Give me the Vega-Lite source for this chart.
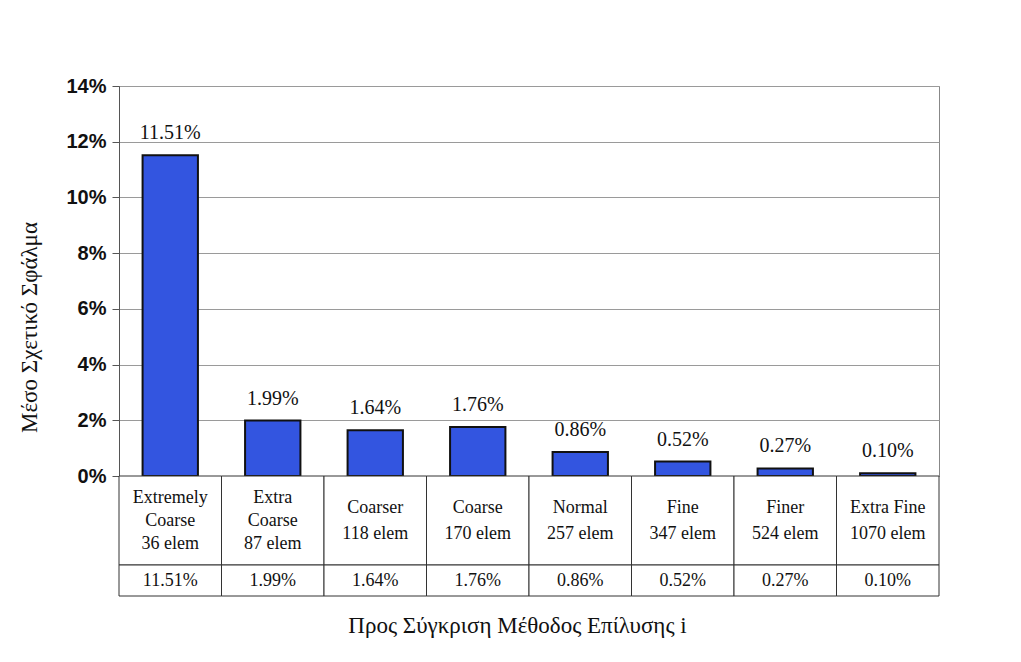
{
  "$schema": "https://vega.github.io/schema/vega-lite/v6.json",
  "background": "white",
  "padding": {"left": 18, "top": 75, "right": 10, "bottom": 10},
  "spacing": 0,
  "bounds": "flush",
  "config": {
    "font": "Liberation Serif",
    "view": {"stroke": null}
  },
  "data": {
    "values": [
      {"mesh": "Extremely\nCoarse\n36 elem", "err": 0.1151},
      {"mesh": "Extra\nCoarse\n87 elem", "err": 0.0199},
      {"mesh": "Coarser\n118 elem", "err": 0.0164},
      {"mesh": "Coarse\n170 elem", "err": 0.0176},
      {"mesh": "Normal\n257 elem", "err": 0.0086},
      {"mesh": "Fine\n347 elem", "err": 0.0052},
      {"mesh": "Finer\n524 elem", "err": 0.0027},
      {"mesh": "Extra Fine\n1070 elem", "err": 0.0010}
    ]
  },
  "vconcat": [
    {
      "width": 820,
      "height": 390,
      "view": {"stroke": "#888888", "strokeWidth": 1},
      "encoding": {
        "x": {
          "field": "mesh", "type": "nominal", "sort": null, "axis": null,
          "scale": {"paddingInner": 0, "paddingOuter": 0}
        },
        "y": {
          "field": "err", "type": "quantitative",
          "scale": {"domain": [0, 0.14], "nice": false},
          "axis": {
            "values": [0, 0.02, 0.04, 0.06, 0.08, 0.1, 0.12, 0.14],
            "format": ".0%",
            "title": "Μέσο Σχετικό Σφάλμα",
            "titleFont": "Liberation Serif",
            "titleFontSize": 23,
            "titleFontWeight": "normal",
            "titleColor": "#111111",
            "titlePadding": 24,
            "titleY": 241,
            "labelFont": "Liberation Sans",
            "labelFontWeight": "bold",
            "labelFontSize": 20,
            "labelColor": "#111111",
            "labelPadding": 6,
            "tickSize": 7,
            "tickColor": "#555555",
            "domainColor": "#555555",
            "grid": true,
            "gridColor": "#9a9a9a",
            "gridWidth": 1
          }
        }
      },
      "layer": [
        {
          "mark": {
            "type": "bar",
            "color": "#3355e0",
            "stroke": "#111111",
            "strokeWidth": 2,
            "width": {"band": 0.54}
          }
        },
        {
          "mark": {
            "type": "text",
            "dy": -22,
            "fontSize": 20,
            "font": "Liberation Serif",
            "color": "#111111"
          },
          "encoding": {
            "text": {"field": "err", "type": "quantitative", "format": ".2%"}
          }
        }
      ]
    },
    {
      "width": 820,
      "height": 89,
      "encoding": {
        "x": {
          "field": "mesh", "type": "nominal", "sort": null, "axis": null,
          "scale": {"paddingInner": 0, "paddingOuter": 0}
        }
      },
      "layer": [
        {
          "mark": {"type": "rect", "fill": "white", "stroke": "#333333", "strokeWidth": 1}
        },
        {
          "transform": [{"filter": "length(split(datum.mesh, '\\n')) == 3"}],
          "mark": {
            "type": "text",
            "fontSize": 18,
            "lineBreak": "\n",
            "lineHeight": 23,
            "baseline": "middle",
            "dy": -23,
            "font": "Liberation Serif",
            "color": "#111111"
          },
          "encoding": {"text": {"field": "mesh", "type": "nominal"}}
        },
        {
          "transform": [{"filter": "length(split(datum.mesh, '\\n')) == 2"}],
          "mark": {
            "type": "text",
            "fontSize": 18,
            "lineBreak": "\n",
            "lineHeight": 26,
            "baseline": "middle",
            "dy": -13,
            "font": "Liberation Serif",
            "color": "#111111"
          },
          "encoding": {"text": {"field": "mesh", "type": "nominal"}}
        }
      ]
    },
    {
      "width": 820,
      "height": 31,
      "encoding": {
        "x": {
          "field": "mesh", "type": "nominal", "sort": null,
          "scale": {"paddingInner": 0, "paddingOuter": 0},
          "title": "Προς Σύγκριση Μέθοδος Επίλυσης i",
          "axis": {
            "labels": false,
            "ticks": false,
            "domain": false,
            "titleFont": "Liberation Serif",
            "titleFontSize": 23,
            "titleFontWeight": "normal",
            "titleColor": "#111111",
            "titlePadding": 18,
            "titleX": 398
          }
        }
      },
      "layer": [
        {
          "mark": {"type": "rect", "fill": "white", "stroke": "#333333", "strokeWidth": 1}
        },
        {
          "mark": {
            "type": "text",
            "fontSize": 18,
            "baseline": "middle",
            "font": "Liberation Serif",
            "color": "#111111"
          },
          "encoding": {"text": {"field": "err", "type": "quantitative", "format": ".2%"}}
        }
      ]
    }
  ]
}
